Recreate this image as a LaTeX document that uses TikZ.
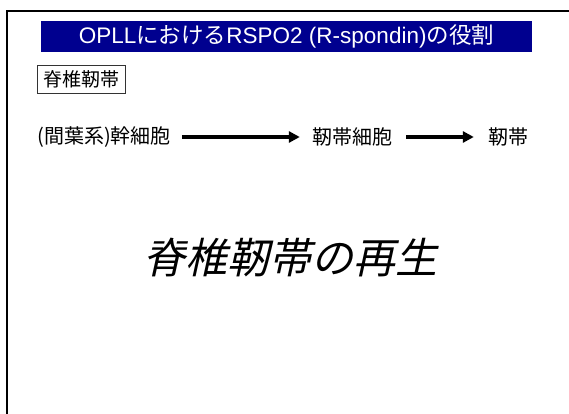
\documentclass[tikz,border=0pt]{standalone}
\usepackage{fontspec}
\setmainfont{Liberation Sans}
\newfontfamily\jp{Noto Sans CJK JP}
\newfontfamily\jpit[FakeSlant=0.22]{Noto Sans CJK JP}
\usetikzlibrary{arrows.meta}
\definecolor{titleblue}{RGB}{0,0,143}
\tikzset{
  rowtext/.style={inner sep=0pt, font=\jp\fontsize{20}{24}\selectfont},
  flow/.style={line width=3.4pt, -{Triangle[length=11pt,width=11pt]}},
}
\begin{document}
\begin{tikzpicture}[x=1pt,y=-1pt]
\useasboundingbox (0,0) rectangle (569,414);
\fill[white] (0,0) rectangle (569,414);
% frame
\draw[line width=2pt] (7,414) -- (7,11) -- (569,11);
% title bar
\node[fill=titleblue, text=white, minimum width=491pt, minimum height=31pt, inner sep=0pt,
      font=\fontsize{22.5}{26}\selectfont] (title) at (286.5,36.5)
  {OPLL{\jp における}RSPO2 (R-spondin){\jp の役割}};
% boxed label
\node[draw=black!80, line width=0.8pt, minimum width=88pt, minimum height=28pt, inner sep=0pt,
      font=\jp\fontsize{19}{22}\selectfont] (label) at (81,79) {脊椎靭帯};
% flow row
\node[rowtext] (stem) at (104,137) {(間葉系)幹細胞};
\node[rowtext] (cell) at (352,137) {靭帯細胞};
\node[rowtext] (lig) at (508,137) {靭帯};
\draw[flow, shorten <=11pt, shorten >=12pt] (stem.east) -- (cell.west);
\draw[flow, shorten <=14pt, shorten >=14pt] (cell.east) -- (lig.west);
% big text
\node[inner sep=0pt, font=\jpit\fontsize{42}{48}\selectfont] (regen) at (290,258) {脊椎靭帯の再生};
\end{tikzpicture}
\end{document}
